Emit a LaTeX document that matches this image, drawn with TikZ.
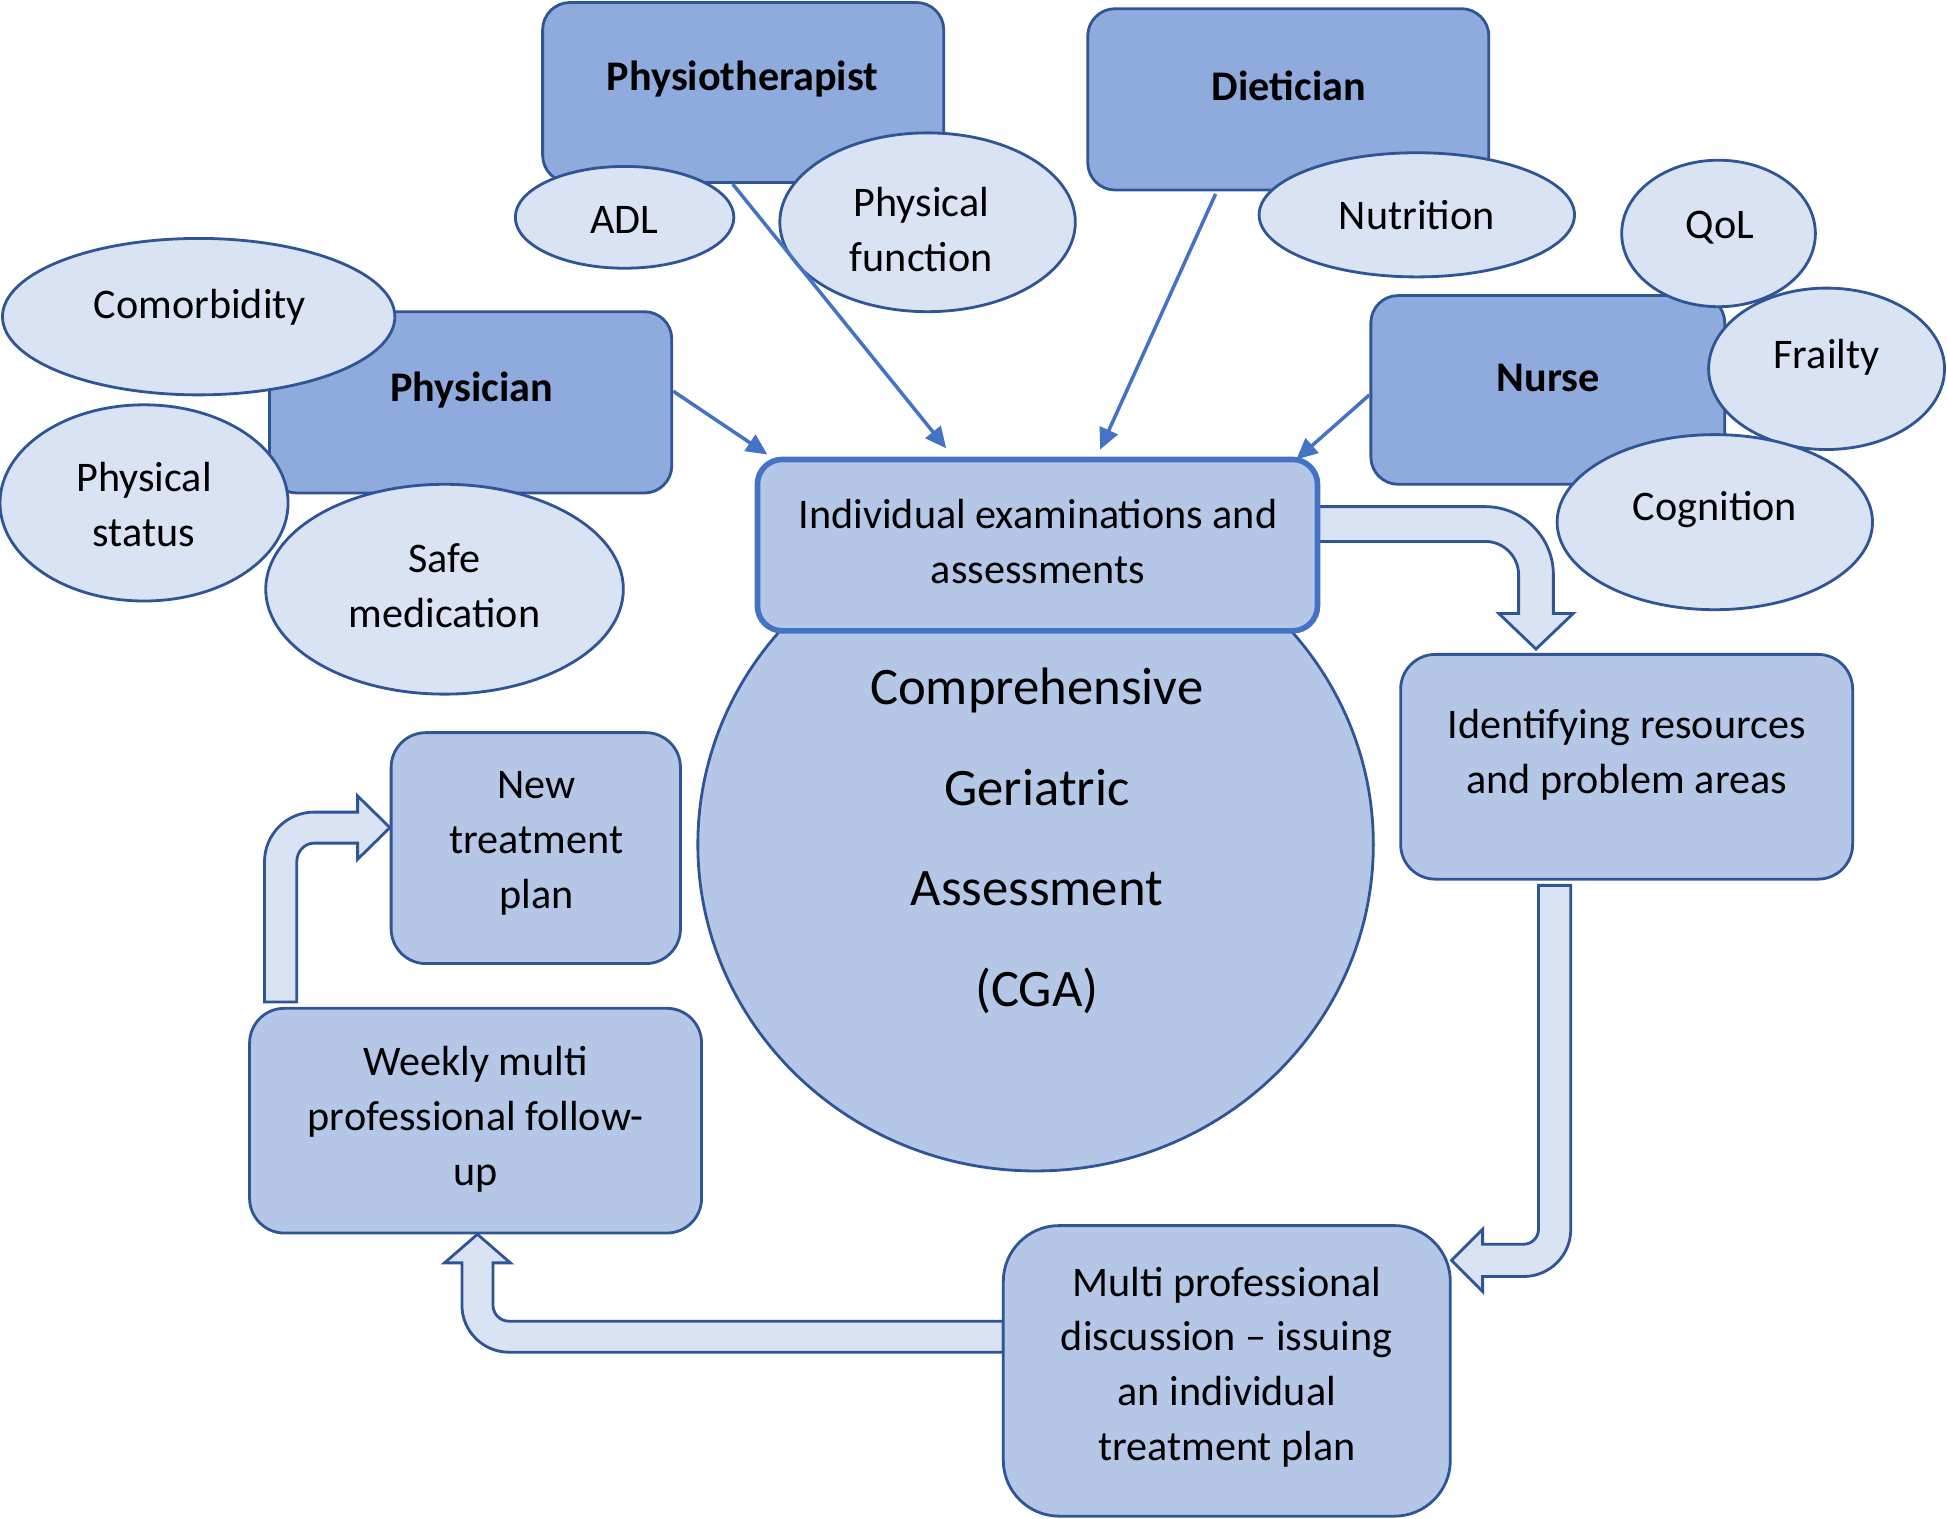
\documentclass[tikz,border=0pt]{standalone}
\usepackage{fontspec}
\setmainfont{Carlito}
\usetikzlibrary{arrows.meta,shapes.geometric,calc}
\newdimen\pxu \pxu=0.012417cm
\definecolor{darkfill}{HTML}{8FAADC}
\definecolor{midfill}{HTML}{B4C7E7}
\definecolor{lightfill}{HTML}{DAE3F3}
\definecolor{edgeblue}{HTML}{2F5597}
\definecolor{linkblue}{HTML}{4472C4}
\tikzset{
  darkbox/.style={draw=edgeblue, line width=0.8pt, fill=darkfill, rounded corners=22\pxu, inner sep=0pt},
  midbox/.style={draw=edgeblue, line width=0.8pt, fill=midfill, rounded corners=28\pxu, inner sep=0pt},
  oval/.style={ellipse, draw=edgeblue, line width=0.8pt, fill=lightfill, inner sep=0pt, align=center,
    font=\fontsize{12}{15}\selectfont},
  lbl/.style={align=center, inner sep=0pt, yshift=-2.5\pxu, font=\fontsize{12}{15.6}\selectfont},
  boldlbl/.style={align=center, inner sep=0pt, yshift=-2\pxu, font=\fontsize{12}{15.6}\selectfont\bfseries},
  conn/.style={draw=linkblue, line width=1pt, -{Triangle[length=6pt,width=5.5pt]}},
  blockarrow/.style={draw=edgeblue, line width=0.8pt, fill=lightfill, line join=miter}
}
\begin{document}
\begin{tikzpicture}[x=0.012417cm, y=-0.012417cm]
\useasboundingbox (0,0) rectangle (1568,1223);

% big circle
\node[ellipse, draw=edgeblue, line width=0.8pt, fill=midfill, minimum width=544\pxu, minimum height=526\pxu, inner sep=0pt] (cga) at (834,680) {};
\node[align=center, inner sep=0pt, font=\fontsize{15}{28.6}\selectfont] (cgatext) at (835,677) {Comprehensive\\Geriatric\\Assessment\\(CGA)};

% profession boxes
\node[darkbox, minimum width=323\pxu, minimum height=145\pxu] (physio) at (598.5,74.5) {};
\node[darkbox, minimum width=323\pxu, minimum height=146\pxu] (diet) at (1037.5,80) {};
\node[darkbox, minimum width=324\pxu, minimum height=146\pxu] (physician) at (379,324) {};
\node[darkbox, minimum width=285\pxu, minimum height=152\pxu] (nurse) at (1246.5,314) {};
\node[boldlbl] (physiolbl) at (598,62) {Physiotherapist};
\node[boldlbl] (dietlbl) at (1038,67) {Dietician};
\node[boldlbl] (physicianlbl) at (380,312) {Physician};
\node[boldlbl] (nurselbl) at (1247,302) {Nurse};

% block arrows
\draw[blockarrow] (1061,408) -- (1196,408) .. controls (1226.4,408) and (1251,432.6) .. (1251,463)
  -- (1251,494) -- (1267,494) -- (1237,522.7) -- (1207,494) -- (1223,494) -- (1223,463)
  .. controls (1223,448.1) and (1210.9,436) .. (1196,436) -- (1061,436) -- cycle;
\draw[blockarrow] (1239,713) -- (1265,713) -- (1265,990) .. controls (1265,1011) and (1248,1028) .. (1227,1028)
  -- (1194,1028) -- (1194,1040) -- (1169,1015) -- (1194,990) -- (1194,1002) -- (1227,1002)
  .. controls (1233.6,1002) and (1239,996.6) .. (1239,990) -- cycle;
\draw[blockarrow] (808,1064) -- (808,1089) -- (410,1089) .. controls (389,1089) and (372,1072) .. (372,1051)
  -- (372,1017) -- (358,1017) -- (384.5,994) -- (411,1017) -- (397,1017) -- (397,1051)
  .. controls (397,1058.2) and (402.8,1064) .. (410,1064) -- cycle;
\draw[blockarrow] (213,807) -- (213,694) .. controls (213,671.9) and (230.9,654) .. (253,654)
  -- (288,654) -- (288,641) -- (314,666.5) -- (288,692) -- (288,679) -- (253,679)
  .. controls (245,679) and (239,686) .. (239,694) -- (239,807) -- cycle;

% individual examinations box
\node[draw=linkblue, line width=1.6pt, fill=midfill, rounded corners=20\pxu, minimum width=451\pxu, minimum height=138\pxu, inner sep=0pt] (indiv) at (835.5,439) {};
\node[lbl] (indivlbl) at (836,433.5) {Individual examinations and\\assessments};

% process boxes
\node[midbox, minimum width=364\pxu, minimum height=181\pxu] (ident) at (1310,617.5) {};
\node[lbl] (identlbl) at (1310,605) {Identifying resources\\and problem areas};
\node[midbox, minimum width=233\pxu, minimum height=186\pxu] (newplan) at (431.5,683) {};
\node[lbl] (newplanlbl) at (432,676.5) {New\\treatment\\plan};
\node[midbox, minimum width=364\pxu, minimum height=181\pxu] (weekly) at (383,902.5) {};
\node[lbl] (weeklylbl) at (383,899) {Weekly multi\\professional follow-\\up};
\node[midbox, rounded corners=45\pxu, minimum width=360\pxu, minimum height=234\pxu] (multi) at (988,1104) {};
\node[lbl] (multilbl) at (988,1098.5) {Multi professional\\discussion -- issuing\\an individual\\treatment plan};

% assessment ellipses
\node[oval, minimum width=176\pxu, minimum height=82\pxu] (adl) at (503,175) {};
\node[lbl] (adllbl) at (503,175) {ADL};
\node[oval, minimum width=238\pxu, minimum height=144\pxu] (physfunc) at (747,179) {};
\node[lbl] (physfunclbl) at (742,182.5) {Physical\\function};
\node[oval, minimum width=254\pxu, minimum height=100\pxu] (nutrition) at (1141,173) {};
\node[lbl] (nutritionlbl) at (1141,171) {Nutrition};
\node[oval, minimum width=156\pxu, minimum height=118\pxu] (qol) at (1384,188) {};
\node[lbl] (qollbl) at (1385,181) {QoL};
\node[oval, minimum width=190\pxu, minimum height=130\pxu] (frailty) at (1471,297) {};
\node[lbl] (frailtylbl) at (1471,285) {Frailty};
\node[oval, minimum width=254\pxu, minimum height=141\pxu] (cognition) at (1381,420.5) {};
\node[lbl] (cognitionlbl) at (1381,408) {Cognition};
\node[oval, minimum width=316\pxu, minimum height=126\pxu] (comorb) at (160,255) {};
\node[lbl] (comorblbl) at (161,245) {Comorbidity};
\node[oval, minimum width=232\pxu, minimum height=158\pxu] (physstat) at (116,405) {};
\node[lbl] (physstatlbl) at (116,403.5) {Physical\\status};
\node[oval, minimum width=288\pxu, minimum height=169\pxu] (safemed) at (358,474.5) {};
\node[lbl] (safemedlbl) at (358,469) {Safe\\medication};

% connectors from professions (drawn over the ellipses)
\coordinate (physiostart) at ($(physio.south)+(-8.5,0)$);
\coordinate (dietstart) at ($(diet.south)+(-58.5,2)$);
\coordinate (physicianstart) at ($(physician.east)+(0,-9)$);
\coordinate (nursestart) at ($(nurse.west)+(0,4)$);
\coordinate (physioend) at (762,361);
\coordinate (dietend) at (886,362);
\coordinate (physicianend) at (618,366);
\coordinate (nurseend) at (1044,370);
\draw[conn] (physiostart) -- (physioend);
\draw[conn] (dietstart) -- (dietend);
\draw[conn] (physicianstart) -- (physicianend);
\draw[conn] (nursestart) -- (nurseend);
\end{tikzpicture}
\end{document}
